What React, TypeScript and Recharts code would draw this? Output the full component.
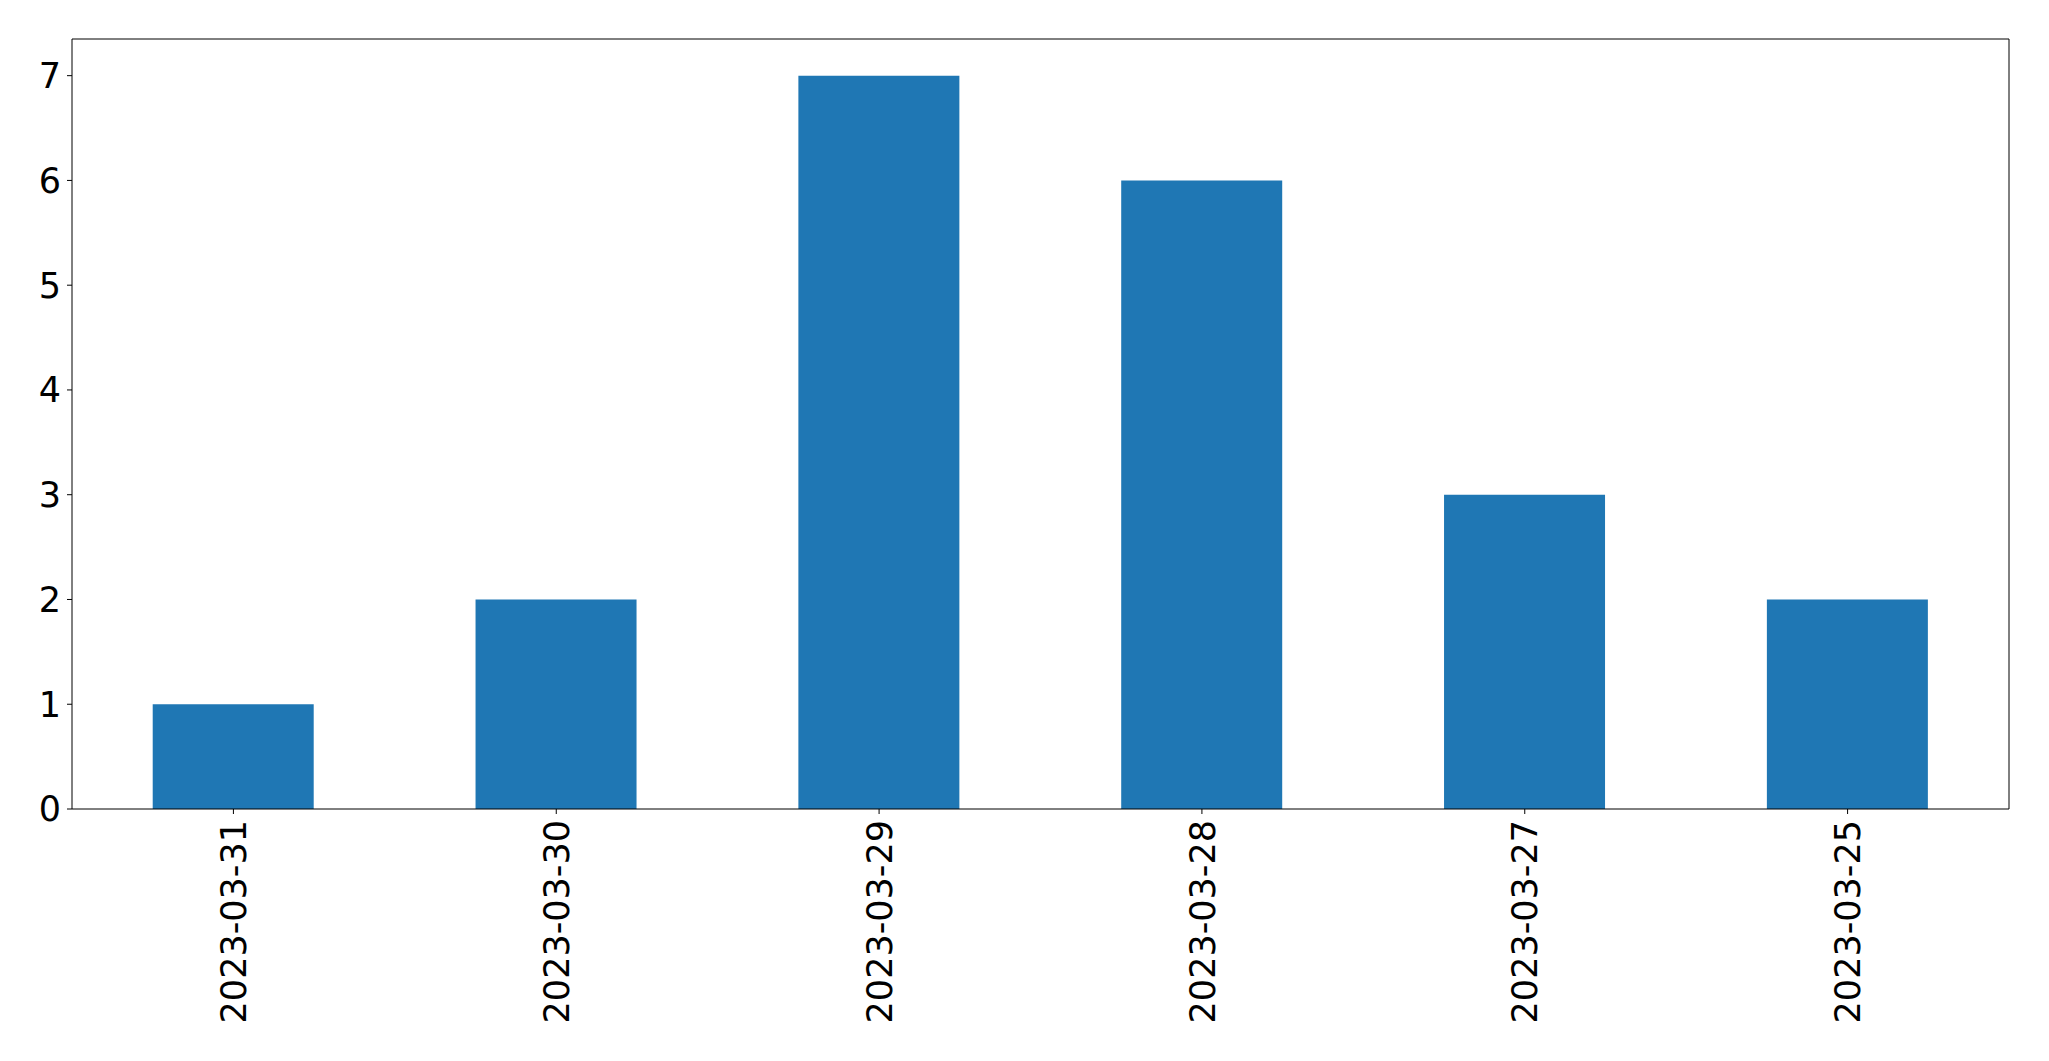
import React from 'react';
import { BarChart, Bar, XAxis, YAxis } from 'recharts';

const dates = ['2023-03-31', '2023-03-30', '2023-03-29', '2023-03-28', '2023-03-27', '2023-03-25'];
const counts = [1, 2, 7, 6, 3, 2];
const yTicks = [0, 1, 2, 3, 4, 5, 6, 7];

const data = dates.map((d, i) => ({ date: d, count: counts[i] }));

const FONT = '"DejaVu Sans", sans-serif';
const FS = 35;

const DateTick = (props: any) => {
  const { x, y, payload } = props;
  return (
    <g transform={`translate(${x},${y})`}>
      <text
        transform="rotate(-90)"
        textAnchor="end"
        dy="0.36em"
        fontSize={FS}
        fontFamily={FONT}
        fill="#000"
      >
        {payload.value}
      </text>
    </g>
  );
};

const App = () => {
  return (
    <div style={{ position: 'absolute', left: 0, top: 0, width: 2049, height: 1061, background: '#fff' }}>
      <BarChart
        width={2049}
        height={1061}
        data={data}
        margin={{ top: 38, right: 39, bottom: 0, left: 0 }}
        barCategoryGap="25%"
      >
        <XAxis
          dataKey="date"
          height={252}
          interval={0}
          tickSize={5}
          tickMargin={6}
          tick={<DateTick />}
          axisLine={{ stroke: '#000', strokeWidth: 1 }}
          tickLine={{ stroke: '#000', strokeWidth: 1 }}
        />
        <XAxis
          xAxisId="top"
          orientation="top"
          dataKey="date"
          height={1}
          tick={false}
          tickLine={false}
          axisLine={{ stroke: '#000', strokeWidth: 1 }}
        />
        <YAxis
          type="number"
          domain={[0, 7.35]}
          ticks={yTicks}
          interval={0}
          width={72}
          tickSize={5}
          tickMargin={6}
          tick={{ fontSize: FS, fontFamily: FONT, fill: '#000' }}
          axisLine={{ stroke: '#000', strokeWidth: 1 }}
          tickLine={{ stroke: '#000', strokeWidth: 1 }}
        />
        <YAxis
          yAxisId="right"
          orientation="right"
          width={1}
          tick={false}
          tickLine={false}
          axisLine={{ stroke: '#000', strokeWidth: 1 }}
        />
        <Bar dataKey="count" fill="#1f77b4" isAnimationActive={false} />
      </BarChart>
    </div>
  );
};

export default App;
